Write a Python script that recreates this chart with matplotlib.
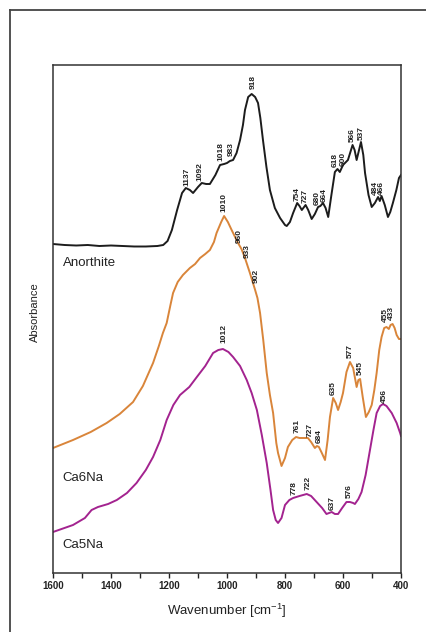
import matplotlib
matplotlib.use('Agg')
import matplotlib.pyplot as plt
from matplotlib.lines import Line2D
from matplotlib.ticker import MultipleLocator

plt.rcParams['font.family'] = ['Liberation Sans', 'DejaVu Sans']
plt.rcParams['mathtext.default'] = 'regular'

# --- DATA (wavenumber in cm-1, absorbance in arbitrary offset units) ---
anorthite_wn = [1600, 1560, 1520, 1480, 1440, 1400, 1360, 1320, 1280, 1240, 1220, 1205,
                1190, 1172, 1155, 1142, 1128, 1117, 1100, 1087, 1072, 1059, 1040, 1024,
                1010, 1000, 990, 979, 967, 955, 945, 938, 927, 915, 903, 893, 885, 876,
                864, 852, 835, 817, 800, 794, 783, 772, 758, 750, 742, 729, 720, 708,
                697, 686, 678, 669, 660, 651, 640, 628, 619, 611, 600, 583, 567, 560,
                553, 538, 530, 524, 512, 501, 490, 479, 473, 467, 456, 445, 437, 428,
                416, 407, 400]
anorthite_abs = [329, 328, 327.5, 328, 327, 327.5, 327, 326.5, 326.5, 327, 328, 332,
                 343, 363, 380, 385, 383, 380, 386, 390, 389, 389, 398, 408,
                 409, 410, 412, 413, 420, 433, 448, 463, 476, 479, 476, 470, 455, 433,
                 406, 383, 365, 355, 348, 347, 351, 360, 370, 367, 363, 368, 363, 354,
                 359, 366, 367, 370, 365, 356, 378, 401, 404, 401, 408, 413, 428, 423,
                 413, 431, 418, 400, 378, 366, 370, 376, 372, 377, 368, 356, 361, 370,
                 383, 395, 398]

ca6na_wn = [1600, 1531, 1470, 1415, 1370, 1324, 1290, 1255, 1235, 1221, 1208, 1195,
            1186, 1170, 1152, 1128, 1110, 1093, 1075, 1059, 1045, 1036, 1020, 1010,
            997, 984, 962, 950, 938, 921, 903, 895, 886, 875, 863, 852, 841, 830,
            824, 812, 800, 790, 775, 762, 750, 738, 721, 710, 697, 690, 683, 673,
            662, 653, 645, 634, 625, 617, 608, 600, 588, 576, 565, 553, 547, 541,
            532, 521, 511, 501, 492, 484, 475, 467, 458, 450, 442, 436, 429, 422,
            415, 407, 400]
ca6na_abs = [125, 133, 141, 150, 159, 171, 187, 210, 227, 240, 250, 268,
             280, 291, 298, 305, 309, 315, 319, 323, 331, 340, 351, 357,
             351, 343, 330, 324, 315, 300, 283, 275, 260, 233, 200, 178, 160, 130,
             120, 107, 115, 126, 133, 136, 135, 135, 135, 131, 125, 127, 126, 120,
             113, 133, 156, 175, 170, 163, 171, 180, 201, 211, 205, 186, 193, 194,
             176, 156, 161, 168, 183, 200, 223, 236, 245, 246, 244, 248, 249, 245,
             238, 234, 234]

ca5na_wn = [1600, 1531, 1490, 1467, 1445, 1410, 1380, 1345, 1312, 1280, 1255, 1230,
            1208, 1185, 1162, 1130, 1104, 1075, 1048, 1030, 1014, 995, 979, 955,
            932, 915, 897, 880, 863, 850, 841, 832, 824, 812, 800, 785, 772, 750,
            725, 710, 691, 672, 657, 648, 639, 628, 617, 603, 588, 576, 565, 559,
            547, 536, 522, 507, 495, 484, 472, 462, 450, 432, 415, 403, 400]
ca5na_abs = [41, 48, 55, 63, 66, 69, 73, 80, 90, 103, 116, 133,
             153, 168, 178, 186, 196, 207, 220, 223, 224, 221, 216, 207,
             193, 180, 163, 138, 110, 83, 63, 53, 50, 55, 68, 73, 75, 77,
             79, 77, 71, 65, 59, 60, 61, 59, 59, 65, 71, 71, 70, 69,
             74, 81, 98, 123, 143, 160, 167, 169, 167, 160, 150, 140, 137]

# peak labels: (text, wavenumber position, label base height)
anorthite_peaks = [('1137', 1138, 387), ('1092', 1093, 392), ('1018', 1021, 412),
                   ('983', 986, 417), ('918', 910, 484), ('754', 759, 372),
                   ('727', 729, 370), ('680', 690, 368), ('664', 666, 371),
                   ('618', 628, 406), ('600', 600, 407), ('566', 567, 431),
                   ('537', 536, 433), ('484', 490, 378), ('466', 466, 378)]
ca6na_peaks = [('1010', 1010, 361), ('960', 957, 330), ('933', 931, 315),
               ('902', 898, 290), ('761', 760, 140), ('727', 714, 136),
               ('684', 682, 130), ('635', 634, 178), ('577', 576, 215),
               ('545', 539, 198), ('455', 455, 251), ('433', 432, 253)]
ca5na_peaks = [('1012', 1010, 230), ('778', 769, 78), ('722', 721, 83),
               ('637', 637, 63), ('576', 578, 75), ('456', 458, 170)]

samples = ['Anorthite', 'Ca6Na', 'Ca5Na']
sample_label_pos = [(1566, 310), (1569, 95), (1569, 28)]
colors = ['#1c1c1c', '#d9853a', '#a3238f']

# --- PLOT ---
fig = plt.figure(figsize=(4.27, 6.32), dpi=100)
ax = fig.add_axes([53/427, 1 - 573/632, 348/427, 508/632])

series = [(anorthite_wn, anorthite_abs, anorthite_peaks),
          (ca6na_wn, ca6na_abs, ca6na_peaks),
          (ca5na_wn, ca5na_abs, ca5na_peaks)]

for (wn, ab, peaks), name, pos, col in zip(series, samples, sample_label_pos, colors):
    ax.plot(wn, ab, color=col, lw=1.4, solid_joinstyle='round')
    for txt, x, y in peaks:
        ax.text(x, y, txt, rotation=90, ha='center', va='bottom',
                fontsize=6.0, fontweight='bold', color='#222222')
    ax.text(pos[0], pos[1], name, ha='left', va='center', fontsize=9.5, color='#222222')

ax.set_xlim(1600, 400)
ax.set_ylim(0, 508)
ax.set_yticks([])
ax.xaxis.set_major_locator(MultipleLocator(200))
ax.xaxis.set_minor_locator(MultipleLocator(100))
ax.tick_params(axis='x', which='both', direction='out', length=3.6, width=1, pad=2,
               labelsize=7, colors='#222222')
for lab in ax.get_xticklabels():
    lab.set_fontweight('bold')
for sp in ax.spines.values():
    sp.set_linewidth(1.1)
    sp.set_color('#333333')

ax.set_xlabel('Wavenumber [cm$^{-1}$]', fontsize=9.5, labelpad=8, color='#222222')
fig.text(35/427, 1 - 312/632, 'Absorbance', rotation=90, ha='center', va='center',
         fontsize=8, color='#222222')

# outer frame (cropped panel border)
fig.add_artist(Line2D([10/427, 10/427], [0, 1 - 10/632], color='#444444', lw=1.3))
fig.add_artist(Line2D([10/427, 1], [1 - 10/632, 1 - 10/632], color='#444444', lw=1.3))

fig.savefig('out.png', dpi=100)
